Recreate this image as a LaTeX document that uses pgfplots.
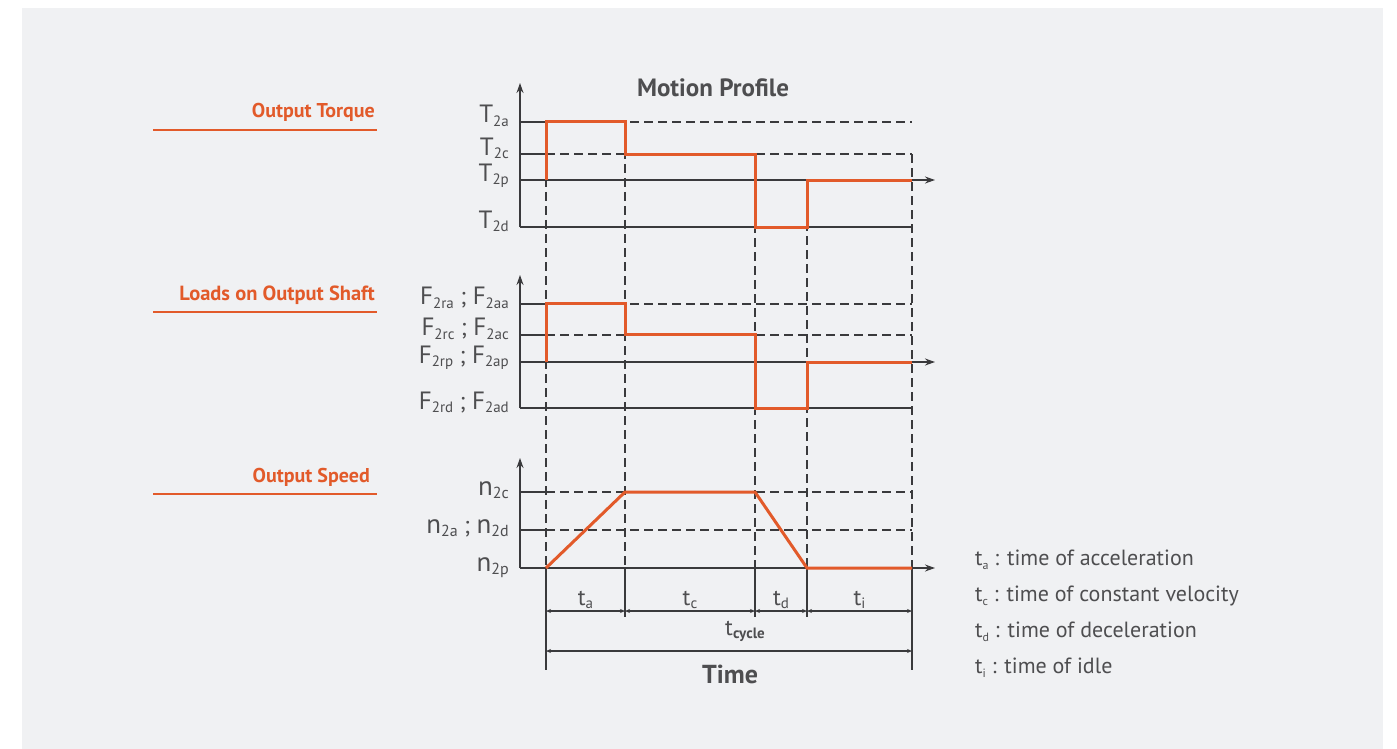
\documentclass[border=0pt]{standalone}
\usepackage{pgfplots}
\pgfplotsset{compat=1.18}
\usepackage{fontspec}
\setmainfont{PT Sans}
\usetikzlibrary{arrows.meta}
\definecolor{bgpanel}{RGB}{240,241,243}
\definecolor{orng}{RGB}{226,90,42}
\definecolor{txt}{RGB}{78,78,80}
\definecolor{axc}{RGB}{58,58,60}
\newcommand{\fs}[1]{\fontsize{#1}{#1}\selectfont}
\newcommand{\lbl}[2]{{\fs{25}#1}\raisebox{-3.5pt}{\fs{15}#2}}
\newcommand{\nlbl}[2]{{\fs{27}#1}\raisebox{-3.5pt}{\fs{16}#2}}
\newcommand{\sep}{{\fs{24}\ ;\ }}
\tikzset{
 orangeline/.style={draw=orng, line width=3pt, line join=miter},
 dsh/.style={draw=axc, line width=1.3pt, dash pattern=on 9pt off 5pt},
 sol/.style={draw=axc, line width=1.3pt},
 arr/.style={draw=axc, line width=1.3pt, -{Stealth[length=10pt,width=7pt]}},
 dim/.style={draw=axc, line width=1.1pt, {Stealth[length=5pt,width=4pt]}-{Stealth[length=5pt,width=4pt]}},
}
\pgfplotsset{
 mot/.style={
  scale only axis, width=415pt, xmin=0, xmax=415,
  axis lines=left,
  xtick=\empty, major tick length=0pt,
  y axis line style={draw=axc, line width=1.3pt, -{Stealth[length=10pt,width=7pt]}},
  yticklabel style={anchor=base east, inner sep=0pt, xshift=-11pt, yshift=-1pt, text=txt},
  clip=false,
 },
}
\begin{document}
\begin{tikzpicture}[x=1pt,y=1pt]
\fill[white] (0,0) rectangle (1397,-749);
\fill[bgpanel] (22,-8) rectangle (1383,-749);
% left labels
\node[anchor=base east, text=orng, font=\bfseries\fs{20}, inner sep=0pt] at (375,-118) {Output Torque};
\draw[orng, line width=2pt] (153,-130.5) -- (377,-130.5);
\node[anchor=base east, text=orng, font=\bfseries\fs{20.5}, inner sep=0pt] at (375,-300) {Loads on Output Shaft};
\draw[orng, line width=2pt] (153,-312) -- (377,-312);
\node[anchor=base east, text=orng, font=\bfseries\fs{20}, inner sep=0pt] at (370,-482) {Output Speed};
\draw[orng, line width=2pt] (153,-494) -- (377,-494);
\node[anchor=base, text=txt, font=\bfseries\fs{25}, inner sep=0pt] at (713,-96.5) {Motion Profile};

% ---------- Output torque ----------
\begin{axis}[mot, at={(520pt,-227pt)}, anchor=south west,
  x axis line style={draw=none},
  height=144pt, ymin=-47, ymax=97,
  ytick={58,26,0,-47}, yticklabels={\lbl{T}{2a},\lbl{T}{2c},\lbl{T}{2p},\lbl{T}{2d}}]
 \draw[sol] (axis cs:0,58) -- (axis cs:26,58);
 \draw[sol] (axis cs:0,26) -- (axis cs:26,26);
 \draw[dsh] (axis cs:26,58) -- (axis cs:392,58);
 \draw[dsh] (axis cs:26,26) -- (axis cs:392,26);
 \draw[sol] (axis cs:0,-47) -- (axis cs:392,-47);
 \draw[arr] (axis cs:0,0) -- (axis cs:415,0);
 % vertical guides down to the speed axis (pixel row 568 -> y=-388)
 \draw[dsh] (axis cs:26,58) -- (axis cs:26,-388);
 \draw[dsh] (axis cs:105,58) -- (axis cs:105,-388);
 \draw[dsh] (axis cs:235,26) -- (axis cs:235,-388);
 \draw[dsh] (axis cs:287,0) -- (axis cs:287,-388);
 \draw[dsh] (axis cs:392,26) -- (axis cs:392,-388);
 \addplot[orangeline, no marks] coordinates {(26,0)(26,58)(105,58)(105,26)(235,26)(235,-47)(287,-47)(287,0)(392,0)};
\end{axis}

% ---------- Loads on output shaft ----------
\begin{axis}[mot, at={(520pt,-408pt)}, anchor=south west,
  x axis line style={draw=none},
  height=133pt, ymin=-46, ymax=87,
  ytick={58,27,0,-46},
  yticklabels={\lbl{F}{2ra}\sep\lbl{F}{2aa},\lbl{F}{2rc}\sep\lbl{F}{2ac},\lbl{F}{2rp}\sep\lbl{F}{2ap},\lbl{F}{2rd}\sep\lbl{F}{2ad}}]
 \draw[sol] (axis cs:0,58) -- (axis cs:26,58);
 \draw[sol] (axis cs:0,27) -- (axis cs:26,27);
 \draw[dsh] (axis cs:26,58) -- (axis cs:392,58);
 \draw[dsh] (axis cs:26,27) -- (axis cs:392,27);
 \draw[sol] (axis cs:0,-46) -- (axis cs:392,-46);
 \draw[arr] (axis cs:0,0) -- (axis cs:415,0);
 \addplot[orangeline, no marks] coordinates {(26,0)(26,58)(105,58)(105,27)(235,27)(235,-46)(287,-46)(287,0)(392,0)};
\end{axis}

% ---------- Output speed ----------
\begin{axis}[mot, at={(520pt,-568pt)}, anchor=south west,
  height=110pt, ymin=0, ymax=110,
  x axis line style={draw=axc, line width=1.3pt, -{Stealth[length=10pt,width=7pt]}},
  yticklabel style={yshift=-2pt},
  ytick={76,38,0},
  yticklabels={\nlbl{n}{2c},\nlbl{n}{2a}\sep\nlbl{n}{2d},\nlbl{n}{2p}}]
 \draw[sol] (axis cs:0,76) -- (axis cs:26,76);
 \draw[sol] (axis cs:0,38) -- (axis cs:26,38);
 \draw[dsh] (axis cs:26,76) -- (axis cs:392,76);
 \draw[dsh] (axis cs:26,38) -- (axis cs:392,38);
 % extension lines below the axis
 \draw[sol] (axis cs:26,0) -- (axis cs:26,-102);
 \draw[sol] (axis cs:392,0) -- (axis cs:392,-102);
 \draw[sol] (axis cs:105,0) -- (axis cs:105,-49);
 \draw[sol] (axis cs:235,0) -- (axis cs:235,-49);
 \draw[sol] (axis cs:287,0) -- (axis cs:287,-49);
 \draw[dim] (axis cs:26,-43) -- (axis cs:105,-43);
 \draw[dim] (axis cs:105,-43) -- (axis cs:235,-43);
 \draw[dim] (axis cs:235,-43) -- (axis cs:287,-43);
 \draw[dim] (axis cs:287,-43) -- (axis cs:392,-43);
 \draw[dim] (axis cs:26,-83) -- (axis cs:392,-83);
 \node[anchor=base, text=txt, inner sep=0pt] at (axis cs:65.5,-37) {{\fs{23}t}\raisebox{-3pt}{\fs{15}a}};
 \node[anchor=base, text=txt, inner sep=0pt] at (axis cs:170,-37) {{\fs{23}t}\raisebox{-3pt}{\fs{15}c}};
 \node[anchor=base, text=txt, inner sep=0pt] at (axis cs:261,-37) {{\fs{23}t}\raisebox{-3pt}{\fs{15}d}};
 \node[anchor=base, text=txt, inner sep=0pt] at (axis cs:339.5,-37) {{\fs{23}t}\raisebox{-3pt}{\fs{15}i}};
 \node[anchor=base west, text=txt, inner sep=0pt] at (axis cs:205,-67) {{\fs{23}t}\raisebox{-3pt}{\bfseries\fs{15}cycle}};
 \node[anchor=base, text=txt, inner sep=0pt, font=\bfseries\fs{26}] at (axis cs:210,-115) {Time};
 % legend of time symbols
 \node[anchor=base west, text=txt, inner sep=0pt, font=\fs{22}] at (axis cs:455,3) {t\raisebox{-4pt}{\fs{12}a} : time of acceleration};
 \node[anchor=base west, text=txt, inner sep=0pt, font=\fs{22}] at (axis cs:455,-33) {t\raisebox{-4pt}{\fs{12}c} : time of constant velocity};
 \node[anchor=base west, text=txt, inner sep=0pt, font=\fs{22}] at (axis cs:455,-69) {t\raisebox{-4pt}{\fs{12}d} : time of deceleration};
 \node[anchor=base west, text=txt, inner sep=0pt, font=\fs{22}] at (axis cs:455,-105) {t\raisebox{-4pt}{\fs{12}i} : time of idle};
 \addplot[orangeline, no marks] coordinates {(26,0)(105,76)(235,76)(287,0)(392,0)};
\end{axis}
\end{tikzpicture}
\end{document}
